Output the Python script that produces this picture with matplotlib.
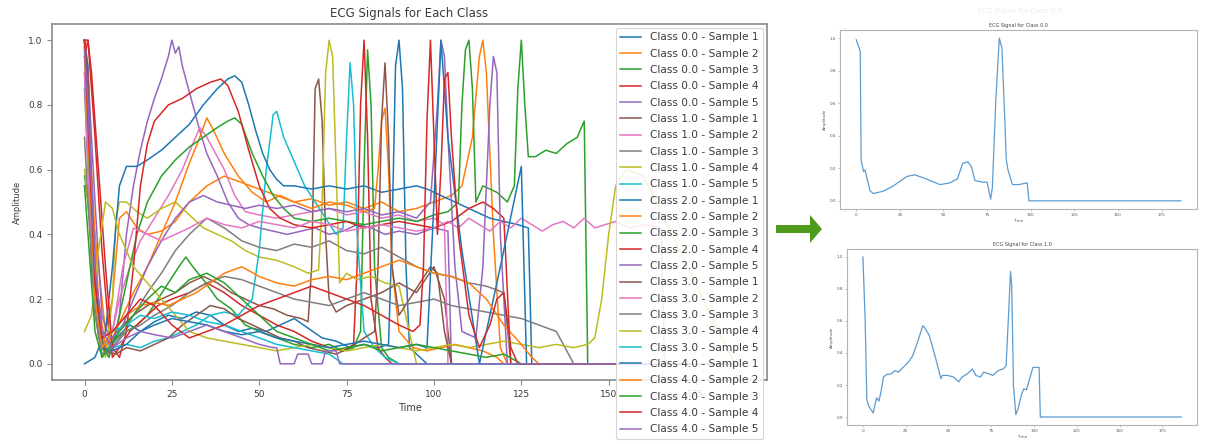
import matplotlib
matplotlib.use("Agg")
import matplotlib.pyplot as plt
from matplotlib.patches import FancyArrow

# ---------------- data (knots) ----------------
t_c0s1 = [0,1,2,3,4,6,8,10,13,16,20,24,28,32,36,40,44,48,52,56,60,64,68,72,76,80,84,87,88,89,90,91,92,93,95,98,186]
v_c0s1 = [1.0,0.92,0.55,0.2,0.08,0.04,0.06,0.09,0.12,0.1,0.13,0.15,0.14,0.16,0.15,0.12,0.1,0.11,0.1,0.12,0.14,0.11,0.08,0.07,0.05,0.06,0.05,0.06,0.4,0.92,1.0,0.85,0.3,0.05,0.03,0.0,0.0]
t_c0s2 = [0,2,4,6,8,10,12,15,18,22,26,30,35,40,45,50,55,60,65,70,75,80,85,90,95,100,105,108,111,113,114,115,117,119,121,186]
v_c0s2 = [0.55,0.5,0.3,0.1,0.2,0.45,0.47,0.42,0.4,0.41,0.44,0.5,0.55,0.58,0.56,0.54,0.52,0.5,0.51,0.49,0.5,0.48,0.5,0.47,0.48,0.5,0.52,0.55,0.7,0.95,1.0,0.9,0.4,0.05,0.0,0.0]
t_c0s3 = [0,1,3,5,7,9,12,15,18,21,24,27,29,31,34,38,42,46,50,55,60,65,70,74,77,79,80,81,82,83,85,87,90,186]
v_c0s3 = [0.58,0.5,0.2,0.02,0.05,0.08,0.1,0.12,0.15,0.2,0.25,0.3,0.33,0.3,0.26,0.2,0.17,0.12,0.1,0.08,0.06,0.05,0.06,0.04,0.05,0.1,0.6,0.97,0.8,0.3,0.05,0.02,0.0,0.0]
t_c0s4 = [0,1,3,5,7,8,10,13,17,21,25,30,35,40,45,50,55,60,65,70,74,77,78,79,80,81,82,84,86,88,186]
v_c0s4 = [1.0,1.0,0.7,0.35,0.1,0.02,0.05,0.1,0.14,0.18,0.2,0.22,0.25,0.22,0.18,0.15,0.12,0.1,0.07,0.05,0.04,0.06,0.3,0.8,1.0,0.7,0.2,0.05,0.02,0.0,0.0]
t_c0s5 = [0,1,3,5,8,10,12,14,16,18,20,22,24,25,26,27,28,29,31,33,35,38,41,44,47,50,54,58,62,66,70,74,78,82,86,90,95,100,104,105,186]
v_c0s5 = [0.98,0.9,0.5,0.15,0.05,0.15,0.4,0.55,0.66,0.75,0.82,0.88,0.95,1.0,0.96,0.98,0.92,0.88,0.8,0.72,0.65,0.58,0.5,0.45,0.43,0.42,0.41,0.4,0.41,0.42,0.4,0.41,0.43,0.42,0.4,0.41,0.4,0.42,0.41,0.0,0.0]

t_c1s1 = [0,1,2,4,6,8,11,14,18,22,26,30,34,38,42,46,50,54,58,62,64,65,66,67,68,69,70,72,75,80,85,90,95,100,103,105,186]
v_c1s1 = [1.0,0.8,0.3,0.1,0.05,0.08,0.12,0.15,0.18,0.2,0.22,0.25,0.27,0.25,0.22,0.2,0.18,0.17,0.15,0.14,0.13,0.3,0.85,0.88,0.75,0.4,0.2,0.16,0.18,0.2,0.22,0.25,0.22,0.3,0.2,0.0,0.0]
t_c1s2 = [0,2,4,6,8,10,13,16,20,24,28,31,33,35,37,40,43,46,50,55,60,65,70,75,80,85,90,95,100,103,104,186]
v_c1s2 = [0.95,0.5,0.15,0.05,0.1,0.2,0.3,0.38,0.45,0.52,0.6,0.68,0.73,0.7,0.66,0.6,0.52,0.47,0.46,0.45,0.46,0.47,0.48,0.46,0.47,0.45,0.46,0.44,0.45,0.43,0.0,0.0]
t_c1s3 = [0,1,3,5,7,10,14,18,22,26,30,35,40,45,50,55,60,65,70,75,80,85,90,95,100,105,110,115,120,122,186]
v_c1s3 = [0.85,0.6,0.2,0.05,0.03,0.08,0.15,0.22,0.28,0.35,0.4,0.45,0.42,0.38,0.36,0.35,0.37,0.36,0.38,0.35,0.34,0.36,0.33,0.3,0.28,0.27,0.25,0.24,0.22,0.0,0.0]
t_c1s4 = [0,2,4,6,8,9,10,12,15,18,22,26,30,34,38,42,46,50,55,60,64,67,68,69,70,71,72,73,75,78,82,86,90,95,186]
v_c1s4 = [0.6,0.4,0.1,0.02,0.2,0.45,0.5,0.5,0.47,0.45,0.48,0.5,0.46,0.42,0.4,0.38,0.35,0.33,0.32,0.3,0.28,0.29,0.5,0.9,1.0,0.95,0.6,0.25,0.28,0.26,0.27,0.25,0.24,0.0,0.0]
t_c1s5 = [0,1,3,5,8,12,16,20,24,28,32,36,40,44,48,50,52,54,55,57,59,61,63,66,69,72,74,75,76,77,78,80,83,86,90,186]
v_c1s5 = [0.9,0.7,0.2,0.08,0.05,0.06,0.05,0.07,0.08,0.1,0.12,0.15,0.16,0.15,0.2,0.35,0.6,0.77,0.78,0.7,0.65,0.6,0.55,0.5,0.45,0.4,0.42,0.7,0.93,0.8,0.4,0.1,0.05,0.02,0.0,0.0]

t_c2s1 = [0,3,6,8,10,12,15,18,22,26,30,34,38,41,43,45,47,49,51,53,55,57,60,65,70,75,80,85,90,95,98,100,104,108,112,116,120,124,127,128,186]
v_c2s1 = [0.0,0.02,0.1,0.3,0.55,0.61,0.61,0.63,0.66,0.7,0.74,0.8,0.85,0.88,0.89,0.87,0.8,0.72,0.65,0.6,0.57,0.55,0.55,0.54,0.55,0.54,0.55,0.53,0.54,0.55,0.54,0.53,0.51,0.49,0.47,0.45,0.44,0.43,0.42,0.0,0.0]
t_c2s2 = [0,2,4,6,8,11,14,18,22,26,30,33,35,37,40,44,48,52,56,60,65,70,75,80,83,84,85,86,87,88,90,94,98,102,106,110,114,118,120,186]
v_c2s2 = [1.0,0.6,0.2,0.05,0.08,0.15,0.22,0.3,0.4,0.5,0.62,0.7,0.76,0.72,0.65,0.58,0.53,0.5,0.52,0.5,0.48,0.5,0.49,0.47,0.48,0.6,0.75,0.79,0.6,0.3,0.1,0.05,0.04,0.05,0.06,0.05,0.04,0.02,0.0,0.0]
t_c2s3 = [0,1,3,5,7,9,12,15,18,22,26,30,34,38,41,43,45,48,51,54,57,60,65,70,75,80,85,90,95,100,104,107,108,109,110,111,112,114,118,121,123,124,125,126,127,129,132,135,138,141,143,144,186]
v_c2s3 = [1.0,0.8,0.3,0.05,0.02,0.1,0.25,0.4,0.5,0.58,0.63,0.67,0.7,0.73,0.75,0.76,0.74,0.65,0.58,0.52,0.48,0.45,0.44,0.45,0.44,0.43,0.44,0.45,0.44,0.46,0.47,0.5,0.8,0.97,1.0,0.85,0.5,0.55,0.53,0.5,0.55,0.85,1.0,0.8,0.64,0.64,0.66,0.65,0.68,0.7,0.75,0.0,0.0]
t_c2s4 = [0,1,2,4,6,8,10,12,14,16,18,20,24,28,32,36,39,41,44,47,50,53,56,60,65,70,75,80,85,90,95,100,105,110,114,117,120,122,186]
v_c2s4 = [0.95,1.0,0.9,0.6,0.3,0.05,0.02,0.1,0.3,0.55,0.68,0.75,0.8,0.82,0.85,0.87,0.88,0.86,0.78,0.66,0.55,0.48,0.45,0.43,0.42,0.43,0.44,0.42,0.43,0.44,0.43,0.42,0.44,0.48,0.5,0.48,0.45,0.0,0.0]
t_c2s5 = [0,1,3,5,8,11,14,18,22,26,30,34,38,42,46,50,55,60,65,70,75,80,85,90,95,99,101,102,103,104,106,108,112,114,116,117,118,119,121,186]
v_c2s5 = [1.0,0.85,0.3,0.1,0.08,0.12,0.2,0.3,0.38,0.45,0.5,0.52,0.5,0.49,0.48,0.49,0.48,0.49,0.47,0.48,0.47,0.48,0.46,0.47,0.45,0.5,0.8,1.0,0.95,0.7,0.3,0.1,0.08,0.3,0.8,0.95,0.9,0.4,0.0,0.0]

t_c3s1 = [0,1,2,4,6,9,12,16,20,24,28,32,36,40,44,48,52,56,60,64,68,72,76,80,83,84,85,86,87,88,90,93,96,99,101,103,105,186]
v_c3s1 = [1.0,0.9,0.4,0.1,0.04,0.03,0.05,0.04,0.06,0.08,0.12,0.15,0.18,0.17,0.14,0.12,0.1,0.08,0.07,0.05,0.04,0.03,0.05,0.08,0.1,0.3,0.75,0.93,0.7,0.3,0.15,0.2,0.25,0.3,0.28,0.1,0.0,0.0]
t_c3s2 = [0,1,3,5,8,11,14,18,22,26,30,35,40,45,50,55,60,65,70,75,80,85,90,95,100,104,107,110,113,116,119,122,125,128,131,134,137,140,143,146,149,152,156,160,165,166,186]
v_c3s2 = [0.9,0.6,0.2,0.05,0.1,0.3,0.42,0.4,0.38,0.4,0.42,0.45,0.43,0.42,0.44,0.43,0.42,0.44,0.43,0.41,0.42,0.43,0.42,0.41,0.42,0.44,0.42,0.45,0.43,0.41,0.44,0.42,0.45,0.43,0.41,0.43,0.44,0.42,0.45,0.42,0.43,0.44,0.42,0.43,0.42,0.0,0.0]
t_c3s3 = [0,1,3,5,8,12,16,20,25,30,35,40,45,50,55,60,65,70,75,80,85,90,95,100,105,110,115,120,125,130,135,140,186]
v_c3s3 = [0.7,0.5,0.15,0.03,0.05,0.1,0.12,0.15,0.18,0.22,0.25,0.27,0.26,0.24,0.22,0.2,0.19,0.18,0.2,0.22,0.2,0.18,0.19,0.2,0.18,0.17,0.16,0.15,0.14,0.12,0.1,0.0,0.0]
t_c3s4 = [0,2,4,6,8,10,14,18,22,26,30,35,40,45,50,55,60,65,70,75,80,85,90,95,100,105,110,115,120,125,130,135,140,144,146,148,150,152,155,160,186]
v_c3s4 = [0.1,0.15,0.35,0.5,0.48,0.4,0.3,0.25,0.2,0.15,0.1,0.08,0.07,0.06,0.05,0.04,0.05,0.06,0.05,0.04,0.05,0.06,0.05,0.04,0.05,0.06,0.05,0.06,0.07,0.06,0.05,0.06,0.05,0.06,0.08,0.2,0.4,0.55,0.6,0.58,0.0]
t_c3s5 = [0,1,3,5,8,12,16,20,25,30,35,40,45,50,55,60,65,70,74,186]
v_c3s5 = [1.0,0.7,0.2,0.05,0.1,0.12,0.15,0.14,0.16,0.15,0.13,0.12,0.1,0.08,0.06,0.05,0.04,0.03,0.0,0.0]

t_c4s1 = [0,1,3,5,8,12,16,20,25,30,35,40,45,50,55,60,65,70,75,80,85,90,95,98,100,102,104,108,113,119,125,126.5,186]
v_c4s1 = [1.0,0.8,0.25,0.05,0.04,0.06,0.1,0.12,0.14,0.13,0.12,0.1,0.09,0.1,0.08,0.07,0.06,0.05,0.06,0.07,0.06,0.05,0.06,0.05,0.5,1.0,0.7,0.35,0.0,0.3,0.61,0.0,0.0]
t_c4s2 = [0,1,3,5,8,12,16,20,24,28,32,36,40,45,50,55,60,65,70,75,80,85,90,95,100,105,110,115,120,125,128,130,186]
v_c4s2 = [0.98,0.7,0.2,0.05,0.1,0.15,0.18,0.19,0.18,0.2,0.22,0.25,0.28,0.3,0.27,0.25,0.24,0.26,0.27,0.26,0.28,0.3,0.32,0.3,0.28,0.27,0.25,0.2,0.12,0.06,0.02,0.0,0.0]
t_c4s3 = [0,1,3,5,7,10,14,18,22,26,30,35,40,45,50,55,60,65,70,75,80,85,90,95,100,105,110,115,120,125,186]
v_c4s3 = [0.55,0.4,0.1,0.02,0.05,0.1,0.15,0.2,0.24,0.22,0.26,0.28,0.25,0.2,0.15,0.1,0.08,0.06,0.04,0.05,0.06,0.04,0.05,0.06,0.05,0.04,0.03,0.02,0.03,0.0,0.0]
t_c4s4 = [0,1,3,5,8,12,16,20,25,30,35,40,45,50,55,60,65,70,75,80,85,90,94,96,97,98,99,100,101,102,103,104,105,107,110,113,116,118,120,122,124,186]
v_c4s4 = [1.0,0.75,0.25,0.08,0.1,0.15,0.2,0.18,0.12,0.08,0.1,0.12,0.15,0.18,0.2,0.22,0.24,0.22,0.2,0.18,0.15,0.12,0.1,0.12,0.3,0.75,1.0,0.7,0.4,0.6,0.88,0.9,0.7,0.4,0.15,0.05,0.12,0.2,0.22,0.05,0.0,0.0]
t_c4s5 = [0,1,3,5,8,12,16,20,25,30,35,40,45,50,54,55,56,60,61,64,65,68,69,72,73,186]
v_c4s5 = [0.97,0.8,0.3,0.1,0.05,0.08,0.1,0.09,0.08,0.1,0.12,0.1,0.08,0.06,0.05,0.05,0.0,0.0,0.03,0.03,0.0,0.0,0.04,0.04,0.0,0.0]

classes = ["0.0", "1.0", "2.0", "3.0", "4.0"]
samples = [1, 2, 3, 4, 5]

# single-sample panels
t_single0 = [0,2.3,2.8,4.2,5,8,10,15.6,21,29,33.6,40,48,53.5,58,61,64,66,68,72.5,75,77,78,80,82,83.5,85,86,87,89.5,93,98,99,101,186]
v_single0 = [0.99,0.92,0.25,0.18,0.19,0.06,0.045,0.06,0.09,0.15,0.16,0.135,0.10,0.11,0.135,0.23,0.24,0.21,0.125,0.115,0.115,0.01,0.08,0.62,1.0,0.94,0.54,0.25,0.19,0.10,0.10,0.11,0.0,0.0,0.0]
t_single1 = [0,1.3,2.3,3.3,4.2,6,7,8,9.4,10.6,12,13.8,16.7,18.7,20.6,23.5,26.3,29,32,35,36,38.8,42.7,45.6,46.5,49.4,53,56,58,61,64,66,68.7,70.6,73.5,76,79,82,83.7,85,86.3,87,88,89.4,90.8,92.7,94,95.6,97.5,99.4,101.3,103,103.7,186]
v_single1 = [1.0,0.61,0.11,0.07,0.055,0.025,0.075,0.12,0.10,0.16,0.25,0.265,0.27,0.29,0.28,0.31,0.34,0.38,0.47,0.57,0.56,0.51,0.36,0.24,0.26,0.26,0.25,0.22,0.25,0.27,0.30,0.26,0.25,0.28,0.27,0.26,0.29,0.30,0.32,0.61,0.91,0.82,0.2,0.015,0.055,0.14,0.175,0.17,0.24,0.31,0.31,0.31,0.0,0.0]

# ---------------- figure ----------------
W, H = 1205, 444
fig = plt.figure(figsize=(W / 100, H / 100), dpi=100)
TXT = "#3a3a3a"
SPINE = "#8a8a8a"

series_t = [t_c0s1, t_c0s2, t_c0s3, t_c0s4, t_c0s5,
            t_c1s1, t_c1s2, t_c1s3, t_c1s4, t_c1s5,
            t_c2s1, t_c2s2, t_c2s3, t_c2s4, t_c2s5,
            t_c3s1, t_c3s2, t_c3s3, t_c3s4, t_c3s5,
            t_c4s1, t_c4s2, t_c4s3, t_c4s4, t_c4s5]
series_v = [v_c0s1, v_c0s2, v_c0s3, v_c0s4, v_c0s5,
            v_c1s1, v_c1s2, v_c1s3, v_c1s4, v_c1s5,
            v_c2s1, v_c2s2, v_c2s3, v_c2s4, v_c2s5,
            v_c3s1, v_c3s2, v_c3s3, v_c3s4, v_c3s5,
            v_c4s1, v_c4s2, v_c4s3, v_c4s4, v_c4s5]

ax = fig.add_axes([52 / W, 1 - 380 / H, (767 - 52) / W, (380 - 24) / H])
k = 0
for c in classes:
    for s in samples:
        ax.plot(series_t[k], series_v[k], lw=1.1, color=f"C{k % 10}",
                label=f"Class {c} - Sample {s}")
        k += 1
ax.set_xlim(-9.3, 195.3)
ax.set_ylim(-0.05, 1.05)
ax.set_xticks([0, 25, 50, 75, 100, 125, 150, 175])
ax.set_yticks([0.0, 0.2, 0.4, 0.6, 0.8, 1.0])
ax.tick_params(labelsize=6.5, colors=TXT, length=3.5, width=0.8, color=SPINE)
for sp in ax.spines.values():
    sp.set_color(SPINE)
    sp.set_linewidth(1.2)
ax.set_title("ECG Signals for Each Class", fontsize=8.5, color=TXT, pad=5)
ax.set_xlabel("Time", fontsize=7, color=TXT, labelpad=3)
ax.set_ylabel("Amplitude", fontsize=6, color=TXT, labelpad=4)
leg = ax.legend(loc="upper right", fontsize=7.6, framealpha=0.85,
                borderaxespad=0.4, handlelength=2.0, labelspacing=0.6)
leg.get_frame().set_edgecolor("#cfcfcf")
leg.get_frame().set_linewidth(0.8)
for txt in leg.get_texts():
    txt.set_color(TXT)

# arrow overlay
ov = fig.add_axes([0, 0, 1, 1])
ov.set_xlim(0, W)
ov.set_ylim(H, 0)
ov.axis("off")
ov.patch.set_alpha(0)
ov.add_patch(FancyArrow(776, 229, 46, 0, width=8, head_width=28, head_length=12,
                        length_includes_head=True, color="#4f9b1c", lw=0))
ov.text(1020, 11, "ECG Signal for Class 0.0", fontsize=5, color="#ececec",
        ha="center", va="center")


def small_panel(rect, t, v, title):
    a = fig.add_axes(rect)
    a.plot(t, v, lw=0.9, color="#5b9bd0")
    a.set_xlim(-9.3, 195.3)
    a.set_ylim(-0.05, 1.05)
    a.set_xticks([0, 25, 50, 75, 100, 125, 150, 175])
    a.set_yticks([0.0, 0.2, 0.4, 0.6, 0.8, 1.0])
    a.tick_params(labelsize=3, colors="#555555", length=1.5, width=0.5, color="#aaaaaa", pad=1.5)
    for sp in a.spines.values():
        sp.set_color("#b5b5b5")
        sp.set_linewidth(0.8)
    a.set_title(title, fontsize=3.5, color="#444444", pad=2)
    a.set_xlabel("Time", fontsize=3, color="#555555", labelpad=1)
    a.set_ylabel("Amplitude", fontsize=3, color="#555555", labelpad=2)
    return a


small_panel([840 / W, 1 - 209 / H, (1197 - 840) / W, (209 - 30) / H],
            t_single0, v_single0, "ECG Signal for Class 0.0")
small_panel([847 / W, 1 - 425 / H, (1197 - 847) / W, (425 - 249) / H],
            t_single1, v_single1, "ECG Signal for Class 1.0")

fig.savefig("out.png", dpi=100)
